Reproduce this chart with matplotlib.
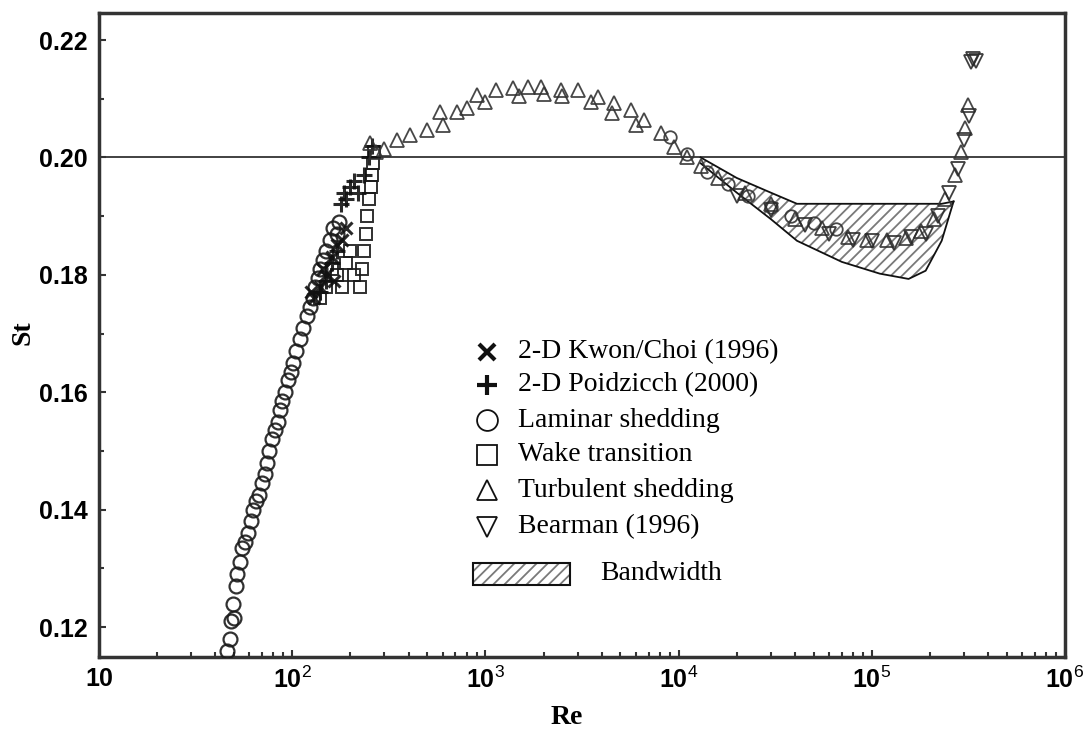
import numpy as np
import matplotlib
matplotlib.use("Agg")
import matplotlib.pyplot as plt
from matplotlib.patches import Rectangle
from matplotlib.ticker import LogLocator, FixedLocator, FuncFormatter

plt.rcParams['mathtext.fontset'] = 'custom'
plt.rcParams['mathtext.rm'] = 'Liberation Sans'
plt.rcParams['mathtext.bf'] = 'Liberation Sans:bold'
plt.rcParams['hatch.linewidth'] = 1.3

# laminar shedding (circles)
lam_re = [46, 47.5, 48, 49.5, 50, 51, 52, 54, 55, 57, 59, 61, 63, 65, 67, 70, 72, 74, 76, 79,
          81, 84, 86, 89, 92, 95, 98, 101, 105, 110, 114, 120, 124, 128, 132, 136, 140, 145,
          150, 157, 163, 170, 175]
lam_st = [0.116, 0.118, 0.121, 0.124, 0.1215, 0.127, 0.129, 0.131, 0.1335, 0.1345, 0.136, 0.138,
          0.140, 0.1415, 0.1425, 0.1445, 0.146, 0.148, 0.150, 0.152, 0.1535, 0.155, 0.157, 0.1585,
          0.160, 0.162, 0.1635, 0.165, 0.167, 0.169, 0.171, 0.173, 0.1745, 0.176, 0.178, 0.1795,
          0.181, 0.1825, 0.184, 0.186, 0.188, 0.187, 0.189]
# circles seen in the turbulent band
circ_re = [9000, 11000, 14000, 18000, 23000, 30000, 38000, 50000, 65000]
circ_st = [0.2035, 0.2005, 0.1975, 0.1955, 0.1935, 0.1915, 0.1900, 0.1888, 0.1878]

# wake transition (squares)
wake_re = [140, 150, 160, 170, 180, 190, 200, 210, 225, 230, 235, 240, 245, 250, 255, 260, 262, 265]
wake_st = [0.176, 0.178, 0.181, 0.180, 0.178, 0.182, 0.184, 0.180, 0.178, 0.181, 0.184, 0.187,
           0.190, 0.193, 0.195, 0.197, 0.199, 0.201]

# 2-D Kwon/Choi (x) and 2-D Poidzicch (+)
kwon_re = [125, 130, 140, 145, 150, 160, 165, 170, 180, 190]
kwon_st = [0.177, 0.176, 0.178, 0.181, 0.180, 0.183, 0.179, 0.185, 0.186, 0.188]
poid_re = [140, 150, 160, 170, 178, 185, 190, 200, 210, 220, 235, 250, 260]
poid_st = [0.177, 0.179, 0.182, 0.184, 0.192, 0.194, 0.193, 0.195, 0.196, 0.194, 0.197, 0.200, 0.202]

# turbulent shedding (up triangles)
turb_re = [253, 270, 300, 350, 409, 500, 585, 716, 800, 909, 1128, 1397, 1652, 1929, 2449, 3000,
           3805, 4605, 5640, 6590, 8070, 9420, 11000, 13000, 16000,
           600, 1000, 1500, 2000, 2500, 3500, 4500, 6000,
           22000, 30000, 40000, 55000, 75000, 95000, 120000, 150000, 180000, 210000, 240000,
           270000, 290000, 305000, 315000]
turb_st = [0.2024, 0.2010, 0.2015, 0.2029, 0.2038, 0.2046, 0.2077, 0.2077, 0.2085, 0.2106, 0.2115,
           0.2118, 0.2120, 0.2120, 0.2115, 0.2115, 0.2103, 0.2092, 0.2080, 0.2063, 0.2041, 0.2017,
           0.2000, 0.1985, 0.1965,
           0.2055, 0.2095, 0.2105, 0.2108, 0.2105, 0.2095, 0.2075, 0.2055,
           0.1940, 0.1920, 0.1895, 0.1880, 0.1865, 0.1860, 0.1860, 0.1862, 0.1875, 0.1895, 0.1930,
           0.1970, 0.2010, 0.2050, 0.2090]

# Bearman (1996) (down triangles)
bear_re = [20000, 30000, 45000, 60000, 80000, 100000, 130000, 160000, 190000, 220000, 250000,
           280000, 300000, 320000, 325000, 335000, 345000]
bear_st = [0.1935, 0.1910, 0.1885, 0.1870, 0.1860, 0.1858, 0.1855, 0.1865, 0.1870, 0.1900, 0.1940,
           0.1980, 0.2030, 0.2070, 0.2163, 0.2168, 0.2165]

# bandwidth
band_re = [13000, 20000, 30000, 41000, 70000, 110000, 155000, 190000, 230000, 265000]
band_hi = [0.2000, 0.1965, 0.1940, 0.1921, 0.1921, 0.1921, 0.1921, 0.1921, 0.1921, 0.1925]
band_lo = [0.1990, 0.1940, 0.1895, 0.1858, 0.1822, 0.1802, 0.1793, 0.1807, 0.1858, 0.1925]

legend_labels = ['2-D Kwon/Choi (1996)', '2-D Poidzicch (2000)', 'Laminar shedding',
                 'Wake transition', 'Turbulent shedding', 'Bearman (1996)']

fig = plt.figure(figsize=(10.86, 7.36), dpi=100)
ax = fig.add_axes([99/1086, 1-657/736, 966/1086, 644/736])

ax.fill_between(band_re, band_lo, band_hi, facecolor='none', edgecolor='#7a7a7a',
                hatch='///', linewidth=0, zorder=1)
ax.plot(band_re, band_hi, color='#111', lw=1.3, zorder=2)
ax.plot(band_re, band_lo, color='#111', lw=1.3, zorder=2)

ax.axhline(0.20, color='#333', lw=1.3, zorder=1)

mk = dict(ls='none', mfc='none', alpha=0.9, zorder=3)
ax.plot(lam_re, lam_st, marker='o', ms=10, mec='#1a1a1a', mew=1.6, **mk)
ax.plot(circ_re, circ_st, marker='o', ms=9, mec='#333', mew=1.3, **mk)
ax.plot(wake_re, wake_st, marker='s', ms=9, mec='#1a1a1a', mew=1.4, **mk)
ax.plot(kwon_re, kwon_st, marker='x', ms=8, mec='#111', mew=2.2, **mk)
ax.plot(poid_re, poid_st, marker='+', ms=11, mec='#111', mew=2.2, **mk)
ax.plot(turb_re, turb_st, marker='^', ms=10, mec='#333', mew=1.3, **mk)
ax.plot(bear_re, bear_st, marker='v', ms=10, mec='#2a2a2a', mew=1.3, **mk)

ax.set_xscale('log')
ax.set_xlim(10, 1e6)
ax.set_ylim(0.1149, 0.2246)

ax.xaxis.set_major_locator(LogLocator(base=10, numticks=10))
ax.xaxis.set_minor_locator(LogLocator(base=10, subs=np.arange(2, 10), numticks=20))


def fmt_x(v, pos):
    e = int(round(np.log10(v)))
    if e == 1:
        return r'$\mathbf{10}$'
    return r'$\mathbf{10}^{\mathrm{%d}}$' % e


ax.xaxis.set_major_formatter(FuncFormatter(fmt_x))
ax.yaxis.set_major_locator(FixedLocator([0.12, 0.14, 0.16, 0.18, 0.20, 0.22]))
ax.yaxis.set_minor_locator(FixedLocator([0.13, 0.15, 0.17, 0.19, 0.21]))
ax.yaxis.set_major_formatter(FuncFormatter(lambda v, p: '%.2f' % v))

ax.tick_params(which='both', direction='in', color='#333', width=1.5)
ax.tick_params(which='major', length=5)
ax.tick_params(which='minor', length=3.5)
ax.tick_params(axis='x', which='major', pad=7, labelsize=18)
ax.tick_params(axis='y', which='major', pad=8, labelsize=18)
for lab in ax.get_yticklabels():
    lab.set_fontfamily('Liberation Sans')
    lab.set_fontweight('bold')

for s in ax.spines.values():
    s.set_linewidth(2.5)
    s.set_color('#333')

fig.text(23/1086, 1-333/736, 'St', rotation=90, ha='center', va='center',
         fontfamily='Liberation Serif', fontweight='bold', fontsize=20)
fig.text(567/1086, 1-718/736, 'Re', ha='center', va='center',
         fontfamily='Liberation Serif', fontweight='bold', fontsize=20)

# legend drawn by hand
leg_mk = [('x', 11, 3.0), ('+', 15, 3.0), ('o', 15, 1.3), ('s', 15, 1.3), ('^', 15, 1.3), ('v', 15, 1.3)]
rows_y = [0.4736, 0.4224, 0.368, 0.3137, 0.2593, 0.2019]
for (m, ms, mew), y, lab in zip(leg_mk, rows_y, legend_labels):
    ax.plot([0.4017], [y], marker=m, ms=ms, mew=mew, mfc='none', mec='#111',
            transform=ax.transAxes, ls='none', clip_on=False, zorder=5)
    ax.text(0.4337, y, lab, transform=ax.transAxes, ha='left', va='center',
            fontfamily='Liberation Serif', fontsize=20, zorder=5)
ax.add_patch(Rectangle((0.387, 0.1118), 0.1006, 0.0342, transform=ax.transAxes,
                       facecolor='white', edgecolor='#7a7a7a', hatch='///', lw=0, zorder=5))
ax.add_patch(Rectangle((0.387, 0.1118), 0.1006, 0.0342, transform=ax.transAxes,
                       facecolor='none', edgecolor='#111', lw=1.5, zorder=6))
ax.text(0.5186, 0.1304, 'Bandwidth', transform=ax.transAxes, ha='left', va='center',
        fontfamily='Liberation Serif', fontsize=20, zorder=5)

fig.savefig('out.png', dpi=100, facecolor='white')
